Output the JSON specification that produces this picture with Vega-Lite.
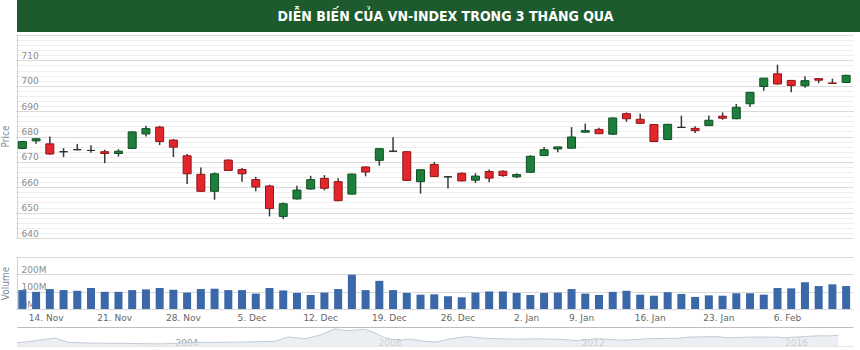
{
  "$schema": "https://vega.github.io/schema/vega-lite/v6.json",
  "padding": 0,
  "background": "#ffffff",
  "spacing": 3,
  "datasets": {
    "title": [{"t": "DIỄN BIẾN CỦA VN-INDEX TRONG 3 THÁNG QUA"}],
    "ohlc": [
      {"date": "2016-11-11", "open": 675.3, "high": 678.2, "low": 675.0, "close": 678.0, "volume": 108000000},
      {"date": "2016-11-14", "open": 678.3, "high": 679.4, "low": 677.1, "close": 679.1, "volume": 98000000},
      {"date": "2016-11-15", "open": 677.1, "high": 680.0, "low": 672.8, "close": 673.1, "volume": 114000000},
      {"date": "2016-11-16", "open": 674.0, "high": 675.4, "low": 671.9, "close": 674.0, "volume": 108000000},
      {"date": "2016-11-17", "open": 674.8, "high": 677.1, "low": 674.6, "close": 674.8, "volume": 104000000},
      {"date": "2016-11-18", "open": 674.5, "high": 676.6, "low": 673.6, "close": 674.5, "volume": 120000000},
      {"date": "2016-11-21", "open": 674.0, "high": 674.8, "low": 669.5, "close": 673.3, "volume": 98000000},
      {"date": "2016-11-22", "open": 673.3, "high": 675.0, "low": 672.1, "close": 674.2, "volume": 98000000},
      {"date": "2016-11-23", "open": 675.3, "high": 682.0, "low": 675.1, "close": 681.8, "volume": 108000000},
      {"date": "2016-11-24", "open": 681.0, "high": 684.2, "low": 680.0, "close": 683.1, "volume": 112000000},
      {"date": "2016-11-25", "open": 683.7, "high": 684.2, "low": 676.6, "close": 678.0, "volume": 120000000},
      {"date": "2016-11-28", "open": 678.6, "high": 679.0, "low": 671.9, "close": 675.8, "volume": 110000000},
      {"date": "2016-11-29", "open": 672.4, "high": 673.1, "low": 661.3, "close": 665.3, "volume": 94000000},
      {"date": "2016-11-30", "open": 665.1, "high": 667.8, "low": 658.2, "close": 658.4, "volume": 114000000},
      {"date": "2016-12-01", "open": 658.4, "high": 665.8, "low": 655.1, "close": 665.3, "volume": 116000000},
      {"date": "2016-12-02", "open": 670.7, "high": 671.0, "low": 666.4, "close": 666.6, "volume": 108000000},
      {"date": "2016-12-05", "open": 667.0, "high": 667.6, "low": 662.2, "close": 665.3, "volume": 108000000},
      {"date": "2016-12-06", "open": 663.0, "high": 664.0, "low": 658.4, "close": 660.1, "volume": 88000000},
      {"date": "2016-12-07", "open": 660.5, "high": 661.0, "low": 648.5, "close": 651.6, "volume": 120000000},
      {"date": "2016-12-08", "open": 648.5, "high": 654.0, "low": 647.5, "close": 653.5, "volume": 106000000},
      {"date": "2016-12-09", "open": 655.4, "high": 660.6, "low": 655.2, "close": 658.9, "volume": 92000000},
      {"date": "2016-12-12", "open": 659.3, "high": 664.5, "low": 659.1, "close": 663.0, "volume": 80000000},
      {"date": "2016-12-13", "open": 663.5, "high": 664.8, "low": 658.8, "close": 659.6, "volume": 94000000},
      {"date": "2016-12-14", "open": 662.2, "high": 663.5, "low": 654.5, "close": 654.7, "volume": 114000000},
      {"date": "2016-12-15", "open": 657.3, "high": 665.3, "low": 657.2, "close": 665.2, "volume": 196000000},
      {"date": "2016-12-16", "open": 668.0, "high": 668.2, "low": 664.3, "close": 666.0, "volume": 108000000},
      {"date": "2016-12-19", "open": 670.6, "high": 675.3, "low": 668.5, "close": 675.2, "volume": 161000000},
      {"date": "2016-12-20", "open": 674.2, "high": 679.7, "low": 674.0, "close": 674.2, "volume": 108000000},
      {"date": "2016-12-21", "open": 674.0, "high": 674.2, "low": 662.5, "close": 662.7, "volume": 92000000},
      {"date": "2016-12-22", "open": 662.2, "high": 667.1, "low": 657.5, "close": 666.9, "volume": 82000000},
      {"date": "2016-12-23", "open": 669.0, "high": 670.0, "low": 664.0, "close": 664.2, "volume": 84000000},
      {"date": "2016-12-26", "open": 664.1, "high": 664.3, "low": 659.5, "close": 664.1, "volume": 73000000},
      {"date": "2016-12-27", "open": 665.5, "high": 665.8, "low": 662.3, "close": 662.5, "volume": 67000000},
      {"date": "2016-12-28", "open": 662.8, "high": 665.5, "low": 661.7, "close": 664.4, "volume": 94000000},
      {"date": "2016-12-29", "open": 666.2, "high": 667.0, "low": 662.0, "close": 663.6, "volume": 100000000},
      {"date": "2016-12-30", "open": 666.3, "high": 666.7, "low": 664.1, "close": 664.6, "volume": 100000000},
      {"date": "2017-01-03", "open": 664.1, "high": 665.5, "low": 663.6, "close": 665.0, "volume": 92000000},
      {"date": "2017-01-04", "open": 665.9, "high": 672.6, "low": 665.7, "close": 672.2, "volume": 80000000},
      {"date": "2017-01-05", "open": 672.5, "high": 675.9, "low": 672.3, "close": 674.8, "volume": 92000000},
      {"date": "2017-01-06", "open": 675.1, "high": 676.0, "low": 673.8, "close": 675.9, "volume": 94000000},
      {"date": "2017-01-09", "open": 675.4, "high": 683.7, "low": 675.2, "close": 679.8, "volume": 114000000},
      {"date": "2017-01-10", "open": 681.7, "high": 685.1, "low": 681.6, "close": 682.3, "volume": 88000000},
      {"date": "2017-01-11", "open": 682.8, "high": 683.4, "low": 681.0, "close": 681.1, "volume": 80000000},
      {"date": "2017-01-12", "open": 680.9, "high": 687.4, "low": 680.7, "close": 687.3, "volume": 98000000},
      {"date": "2017-01-13", "open": 689.0, "high": 689.5, "low": 685.8, "close": 687.0, "volume": 104000000},
      {"date": "2017-01-16", "open": 686.8, "high": 689.0, "low": 685.0, "close": 685.2, "volume": 82000000},
      {"date": "2017-01-17", "open": 684.7, "high": 684.9, "low": 677.8, "close": 678.0, "volume": 76000000},
      {"date": "2017-01-18", "open": 678.8, "high": 685.0, "low": 678.6, "close": 684.8, "volume": 96000000},
      {"date": "2017-01-19", "open": 683.6, "high": 688.2, "low": 683.4, "close": 683.6, "volume": 86000000},
      {"date": "2017-01-20", "open": 683.2, "high": 684.0, "low": 681.4, "close": 682.3, "volume": 69000000},
      {"date": "2017-01-23", "open": 684.3, "high": 688.3, "low": 684.1, "close": 686.4, "volume": 78000000},
      {"date": "2017-01-24", "open": 688.0, "high": 689.5, "low": 686.6, "close": 687.2, "volume": 76000000},
      {"date": "2017-01-25", "open": 687.0, "high": 692.8, "low": 686.8, "close": 691.5, "volume": 90000000},
      {"date": "2017-02-02", "open": 692.9, "high": 697.5, "low": 691.6, "close": 697.4, "volume": 90000000},
      {"date": "2017-02-03", "open": 699.7, "high": 703.1, "low": 698.0, "close": 703.0, "volume": 82000000},
      {"date": "2017-02-06", "open": 704.7, "high": 708.3, "low": 700.5, "close": 700.7, "volume": 120000000},
      {"date": "2017-02-07", "open": 702.1, "high": 702.3, "low": 697.4, "close": 700.1, "volume": 118000000},
      {"date": "2017-02-08", "open": 700.0, "high": 703.7, "low": 699.2, "close": 702.0, "volume": 153000000},
      {"date": "2017-02-09", "open": 702.8, "high": 703.0, "low": 701.0, "close": 702.2, "volume": 131000000},
      {"date": "2017-02-10", "open": 701.1, "high": 702.8, "low": 700.9, "close": 700.9, "volume": 141000000},
      {"date": "2017-02-13", "open": 701.3, "high": 704.3, "low": 701.2, "close": 704.1, "volume": 131000000}
    ],
    "nav": [
      {"date": "2000-12-13", "value": 210},
      {"date": "2001-03-15", "value": 300},
      {"date": "2001-06-15", "value": 420},
      {"date": "2001-09-15", "value": 520},
      {"date": "2001-12-15", "value": 240},
      {"date": "2002-06-15", "value": 190},
      {"date": "2003-01-15", "value": 170},
      {"date": "2003-10-15", "value": 140},
      {"date": "2004-06-15", "value": 230},
      {"date": "2005-06-15", "value": 260},
      {"date": "2006-01-15", "value": 310},
      {"date": "2006-04-15", "value": 600},
      {"date": "2006-08-15", "value": 480},
      {"date": "2006-12-15", "value": 750},
      {"date": "2007-03-15", "value": 1130},
      {"date": "2007-06-15", "value": 1000},
      {"date": "2007-10-15", "value": 1100},
      {"date": "2007-12-15", "value": 930},
      {"date": "2008-03-15", "value": 520},
      {"date": "2008-06-15", "value": 380},
      {"date": "2008-09-15", "value": 450},
      {"date": "2008-12-15", "value": 310},
      {"date": "2009-03-15", "value": 260},
      {"date": "2009-06-15", "value": 450},
      {"date": "2009-10-15", "value": 620},
      {"date": "2010-03-15", "value": 500},
      {"date": "2010-09-15", "value": 450},
      {"date": "2011-03-15", "value": 470},
      {"date": "2011-09-15", "value": 430},
      {"date": "2011-12-15", "value": 350},
      {"date": "2012-03-15", "value": 420},
      {"date": "2012-05-15", "value": 480},
      {"date": "2012-11-15", "value": 380},
      {"date": "2013-06-15", "value": 490},
      {"date": "2013-12-15", "value": 505},
      {"date": "2014-03-15", "value": 590},
      {"date": "2014-09-15", "value": 620},
      {"date": "2014-12-15", "value": 545},
      {"date": "2015-06-15", "value": 590},
      {"date": "2015-12-15", "value": 580},
      {"date": "2016-01-15", "value": 540},
      {"date": "2016-06-15", "value": 620},
      {"date": "2016-10-15", "value": 680},
      {"date": "2016-12-15", "value": 665},
      {"date": "2017-02-13", "value": 704}
    ]
  },
  "vconcat": [
    {
      "data": {"name": "title"},
      "width": 857,
      "height": 32,
      "view": {"fill": "#1d5a2d", "stroke": null},
      "mark": {"type": "text", "color": "#ffffff", "font": "'DejaVu Sans Condensed', 'Open Sans', sans-serif", "fontSize": 14, "fontWeight": "bold", "align": "center", "baseline": "middle", "dy": 1},
      "encoding": {"text": {"field": "t", "type": "nominal"}}
    },
    {
      "width": 836,
      "height": 312,
      "layer": [
        {
          "data": {"name": "ohlc"},
          "encoding": {
            "x": {
              "field": "date",
              "type": "ordinal",
              "scale": {"type": "band", "paddingInner": 0, "paddingOuter": 0, "range": [-1.5, 836]},
              "axis": {
                "orient": "bottom",
                "offset": -38,
                "title": null,
                "values": ["2016-11-14", "2016-11-21", "2016-11-28", "2016-12-05", "2016-12-12", "2016-12-19", "2016-12-26", "2017-01-03", "2017-01-09", "2017-01-16", "2017-01-23", "2017-02-06"],
                "labelExpr": "datum.value == '2017-01-03' ? '2. Jan' : utcFormat(toDate(datum.value), '%-d. %b')",
                "ticks": false,
                "domain": false,
                "grid": false,
                "labelAngle": 0,
                "labelOffset": 10,
                "labelPadding": 4,
                "labelColor": "#666666",
                "labelFontSize": 9,
                "labelOverlap": false,
                "labelBound": false,
                "labelFlush": false
              }
            }
          },
          "layer": [
            {
              "mark": {"type": "tick", "opacity": 0},
              "encoding": {
                "y": {
                  "field": "close",
                  "type": "quantitative",
                  "scale": {"domain": [640, 720], "range": [203, 0], "nice": false, "zero": false},
                  "axis": {
                    "orient": "left",
                    "title": null,
                    "values": [642, 644, 646, 648, 652, 654, 656, 658, 662, 664, 666, 668, 672, 674, 676, 678, 682, 684, 686, 688, 692, 694, 696, 698, 702, 704, 706, 708, 712, 714, 716, 718, 720],
                    "labels": false,
                    "ticks": false,
                    "domain": false,
                    "grid": true,
                    "gridColor": {"condition": {"test": "datum.value >= 720", "value": "#d9d9d9"}, "value": "#efefef"}
                  }
                }
              }
            },
            {
              "mark": {"type": "tick", "opacity": 0},
              "encoding": {
                "y": {
                  "field": "close",
                  "type": "quantitative",
                  "scale": {"domain": [640, 720], "range": [203, 0], "nice": false, "zero": false},
                  "axis": {
                    "orient": "left",
                    "title": "Price",
                    "values": [640, 650, 660, 670, 680, 690, 700, 710],
                    "grid": true,
                    "gridColor": "#d9d9d9",
                    "domain": true,
                    "domainColor": "#c6d3e0",
                    "ticks": false,
                    "labelAlign": "left",
                    "labelPadding": -4,
                    "labelBaseline": "alphabetic",
                    "labelOffset": -2,
                    "labelColor": "#8c8c8c",
                    "labelFontSize": 9,
                    "labelOverlap": false,
                    "labelBound": false,
                    "labelFlush": false,
                    "titleX": -7,
                    "titleY": 101,
                    "titleColor": "#7d8894",
                    "titleFontSize": 10,
                    "titleFontWeight": "normal"
                  }
                }
              }
            },
            {
              "layer": [
                {
                  "mark": {"type": "rule", "color": "#3a3a3a", "strokeWidth": 1.5},
                  "encoding": {
                    "y": {
                      "field": "low",
                      "type": "quantitative",
                      "scale": {"domain": [640, 720], "range": [203, 0], "nice": false, "zero": false},
                      "axis": null
                    },
                    "y2": {"field": "high"}
                  }
                },
                {
                  "mark": {"type": "bar", "width": 8, "strokeWidth": 1},
                  "encoding": {
                    "y": {"field": "open", "type": "quantitative", "axis": null},
                    "y2": {"field": "close"},
                    "color": {
                      "condition": [
                        {"test": "datum.close > datum.open", "value": "#1e7f3c"},
                        {"test": "datum.close < datum.open", "value": "#e3262c"}
                      ],
                      "value": "#333333"
                    },
                    "stroke": {
                      "condition": [
                        {"test": "datum.close > datum.open", "value": "#0e4f22"},
                        {"test": "datum.close < datum.open", "value": "#8d1717"}
                      ],
                      "value": "#2a2a2a"
                    }
                  }
                }
              ]
            },
            {
              "mark": {"type": "bar", "width": 8, "color": "#3a68a8"},
              "encoding": {
                "y": {
                  "field": "volume",
                  "type": "quantitative",
                  "scale": {"domain": [0, 300000000], "range": [274, 221.5], "nice": false},
                  "axis": {
                    "orient": "left",
                    "title": "Volume",
                    "values": [0, 100000000, 200000000, 300000000],
                    "labelExpr": "datum.value >= 300000000 ? '' : (datum.value / 1000000) + 'M'",
                    "grid": true,
                    "gridColor": "#d9d9d9",
                    "domain": true,
                    "domainColor": "#c6d3e0",
                    "ticks": false,
                    "labelAlign": "left",
                    "labelPadding": -4,
                    "labelBaseline": "alphabetic",
                    "labelOffset": -2,
                    "labelColor": "#8c8c8c",
                    "labelFontSize": 9,
                    "labelOverlap": false,
                    "labelBound": false,
                    "labelFlush": false,
                    "titleX": -7,
                    "titleY": 248,
                    "titleColor": "#7d8894",
                    "titleFontSize": 10,
                    "titleFontWeight": "normal"
                  }
                }
              }
            }
          ],
          "resolve": {"scale": {"y": "independent"}, "axis": {"y": "independent"}}
        },
        {
          "data": {"name": "nav"},
          "mark": {"type": "area", "color": "#e3e8ee", "line": {"color": "#c3ccd7", "strokeWidth": 1}},
          "encoding": {
            "x": {
              "field": "date",
              "type": "temporal",
              "scale": {"type": "utc", "domain": [{"year": 2000, "month": 12, "date": 13, "utc": true}, {"year": 2017, "month": 5, "date": 29, "utc": true}], "range": [0, 836]},
              "axis": {
                "orient": "bottom",
                "title": null,
                "values": [{"year": 2004, "utc": true}, {"year": 2008, "utc": true}, {"year": 2012, "utc": true}, {"year": 2016, "utc": true}],
                "format": "%Y",
                "ticks": false,
                "grid": false,
                "domain": true,
                "domainColor": "#9a9a9a",
                "domainWidth": 1.5,
                "labelAlign": "left",
                "labelOffset": 3,
                "labelBaseline": "middle",
                "labelPadding": -5,
                "labelColor": "#9a9a9a",
                "labelFontSize": 9,
                "labelBound": false,
                "labelFlush": false,
                "labelOverlap": false
              }
            },
            "y": {
              "field": "value",
              "type": "quantitative",
              "scale": {"domain": [0, 1250], "range": [311, 292], "nice": false},
              "axis": {
                "orient": "left",
                "title": null,
                "values": [1250],
                "labels": false,
                "ticks": false,
                "domain": false,
                "grid": true,
                "gridColor": "#bdbdbd"
              }
            }
          }
        }
      ],
      "resolve": {"scale": {"x": "independent", "y": "independent"}, "axis": {"x": "independent", "y": "independent"}}
    }
  ],
  "config": {
    "view": {"stroke": null},
    "font": "DejaVu Sans",
    "axis": {"labelFont": "DejaVu Sans", "titleFont": "'DejaVu Sans Condensed', 'Open Sans', sans-serif"}
  }
}
